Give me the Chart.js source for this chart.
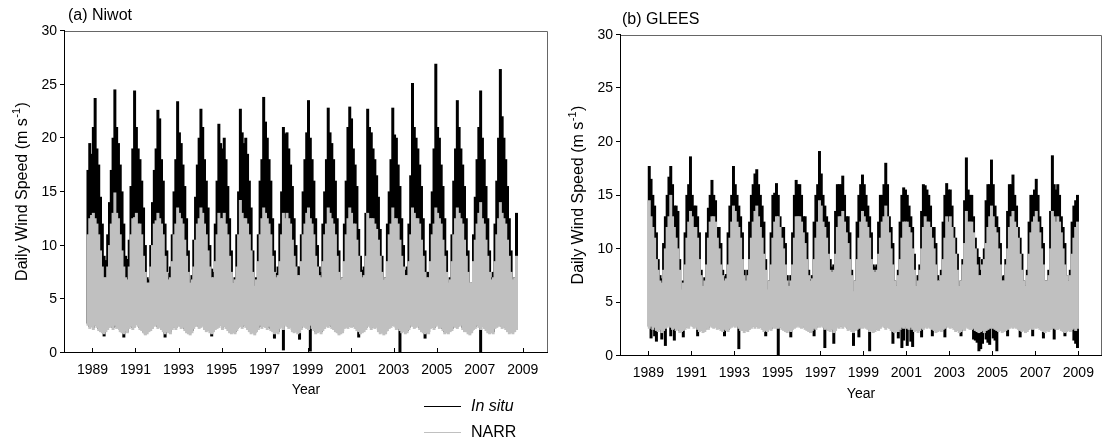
<!DOCTYPE html>
<html>
<head>
<meta charset="utf-8">
<script src="https://cdn.jsdelivr.net/npm/chart.js@4.4.1/dist/chart.umd.min.js"></script>
<style>
  body { margin: 0; background: #fff; width: 1113px; height: 446px; overflow: hidden; position: relative; }
  #wrapA { position: absolute; left: 0; top: 0; }
  #wrapB { position: absolute; left: 556px; top: 0; }
</style>
</head>
<body>
<div id="wrapA"><canvas id="chartA" width="560" height="446"></canvas></div>
<div id="wrapB"><canvas id="chartB" width="557" height="446"></canvas></div>
<script>
// x positions are months; Niwot runs by water year (Oct 1988 - Sep 2008), GLEES by calendar year (1989 - 2008)
let niwotStart = 1988.75;
let gleesStart = 1989.0;
let yearTicks = [1989, 1991, 1993, 1995, 1997, 1999, 2001, 2003, 2005, 2007, 2009];
let speedTicks = [0, 5, 10, 15, 20, 25, 30];
let seriesNames = ["In situ", "NARR"];

// (a) Niwot, monthly upper / lower extent of the daily trace, Oct..Sep per row
let niwotInSituMax = [
  17, 19.5, 18.5, 21, 23.7, 19, 17.5, 14.5, 12, 9, 8.6, 11,
  14, 17, 20, 24.5, 21, 19.5, 17.5, 15, 12, 9, 8.7, 10.5,
  15.5, 19, 24.4, 21, 19, 18, 16, 13.5, 10, 7, 6.8, 10,
  14, 17, 19, 22.6, 21.8, 18, 16, 12, 9.5, 7.4, 8, 11,
  15, 18, 23.4, 20.5, 19.5, 17.5, 15.5, 12.5, 9.5, 6.8, 7.2, 10.5,
  14.5, 17.5, 20, 22.7, 21, 18, 16, 13.5, 10, 7.8, 7.5, 12,
  16, 21.3, 19.5, 19, 20, 18, 15.5, 12.5, 9.5, 6.5, 7, 11,
  15, 22.7, 20.5, 19.5, 20, 18.5, 16, 13.5, 9.5, 6, 7, 11,
  16, 18, 23.8, 21.5, 20, 18, 16, 12.5, 9.5, 7.4, 8, 12,
  15, 21, 20.4, 20.5, 19, 17.5, 15.5, 12.5, 10, 8, 8, 11,
  15, 18, 20.5, 23.5, 20, 18, 16, 12.5, 10, 8, 7.5, 12,
  15, 18, 22.8, 20.5, 19.5, 18, 16, 12.5, 9.5, 6.8, 7, 12,
  16, 21, 22.9, 21.8, 19, 17.5, 15.5, 11.5, 9, 7.7, 8, 13,
  22.7, 21, 20.5, 19, 18, 16.5, 14.5, 11.5, 9, 6.8, 7, 12,
  15, 18, 22.8, 20.3, 20, 17.5, 15.5, 12.5, 10, 7.7, 8, 12,
  16.5, 25.1, 21, 20, 19, 17.5, 15.5, 12.5, 9.5, 7.5, 7.5, 12,
  15, 19, 26.9, 21, 20, 17.5, 15.5, 12.5, 9.5, 6.2, 7, 11,
  16, 19, 23.5, 21, 19, 17.5, 15.5, 12.5, 9.5, 6, 6.5, 11,
  14.5, 18, 21, 24.4, 20, 18, 15.5, 12.5, 9.5, 7, 7.5, 12,
  16, 20, 26.4, 22, 20, 18, 15.5, 12.5, 9.5, 6.5, 7, 13
];
let niwotInSituMin = [
  2.8, 2.5, 2.6, 2.4, 2.8, 2.6, 2.3, 2.2, 2.0, 1.6, 2.2, 2.4,
  2.6, 2.7, 2.4, 2.8, 2.5, 2.6, 2.2, 2.1, 1.5, 2.3, 2.0, 2.5,
  2.7, 2.4, 2.6, 2.9, 2.7, 2.4, 2.3, 2.0, 1.8, 2.0, 2.2, 2.3,
  2.5, 2.7, 2.8, 2.5, 2.6, 2.4, 2.2, 1.5, 2.2, 2.1, 2.0, 2.4,
  2.6, 2.4, 2.7, 2.8, 2.5, 2.6, 2.3, 2.1, 2.0, 1.9, 2.1, 2.5,
  2.7, 2.8, 2.5, 2.6, 2.7, 2.4, 2.2, 2.3, 2.1, 1.6, 2.2, 2.4,
  2.5, 2.6, 2.8, 2.4, 2.7, 2.5, 2.3, 2.1, 2.0, 2.1, 2.0, 2.3,
  2.6, 2.7, 2.5, 2.8, 2.6, 2.4, 2.2, 2.0, 2.1, 1.9, 2.2, 2.4,
  2.8, 2.5, 2.7, 2.6, 2.4, 2.7, 2.3, 2.2, 1.4, 2.1, 2.0, 2.5,
  2.6, 0.3, 2.8, 2.7, 2.5, 2.6, 2.2, 2.1, 2.2, 2.0, 1.3, 2.4,
  2.7, 2.6, 2.5, 2.4, 0.2, 2.5, 2.3, 2.0, 2.1, 2.2, 2.0, 2.3,
  2.5, 2.7, 2.6, 2.8, 2.5, 2.4, 2.2, 2.1, 1.9, 2.0, 2.1, 2.5,
  2.6, 2.5, 2.7, 2.6, 2.8, 2.5, 2.3, 1.5, 2.0, 2.1, 2.2, 2.4,
  2.7, 2.8, 2.4, 2.6, 2.5, 2.6, 2.2, 2.0, 2.1, 1.9, 2.0, 2.3,
  2.5, 2.6, 2.8, 2.7, 2.4, 2.5, 0.0, 2.1, 2.2, 2.0, 2.1, 2.4,
  2.8, 2.7, 2.5, 2.6, 2.7, 2.4, 2.2, 2.1, 1.4, 2.1, 2.0, 2.5,
  2.6, 2.4, 2.7, 2.8, 2.5, 2.6, 2.3, 2.0, 2.1, 2.0, 2.2, 2.3,
  2.7, 2.6, 2.5, 2.7, 2.8, 2.4, 2.2, 2.2, 2.0, 1.9, 2.1, 2.4,
  2.5, 2.8, 2.6, 0.0, 2.7, 2.5, 2.3, 2.1, 2.0, 2.1, 2.0, 2.5,
  2.6, 2.7, 2.8, 2.5, 2.6, 2.4, 2.2, 2.0, 2.1, 2.0, 2.2, 2.4
];
let niwotNarrMax = [
  11, 12.5, 12.8, 13, 12.5, 12, 11, 9.5, 8, 7, 7, 8,
  10, 12, 13, 14.9, 13, 12.5, 11, 9.5, 8, 7, 6.8, 8,
  11, 12.5, 12.6, 13, 12, 12, 11, 9, 7.5, 6.5, 6.5, 8,
  10, 12, 12.3, 13, 12.5, 12, 11, 9, 7.5, 6.8, 7, 8.5,
  11, 12, 13.5, 13, 12.5, 12, 10.5, 9, 7.5, 6.5, 6.8, 8,
  10.5, 12, 12.5, 13.5, 13, 12, 11, 9.5, 8, 7, 7, 8.5,
  11, 13, 12.5, 12.5, 13, 12, 11, 9, 7.5, 6.5, 6.8, 8,
  11, 14.2, 13, 12.5, 12.5, 12, 11, 9.5, 7.5, 6.2, 6.8, 8.5,
  11, 12.5, 13.5, 13, 12.5, 12, 11, 9, 7.5, 7, 7.2, 8.5,
  11, 13, 12.5, 13, 12.5, 12, 10.5, 9, 8, 7.2, 7.2, 8.5,
  11, 12, 13, 13.5, 12.5, 12, 11, 9, 8, 7.2, 7, 8.5,
  11, 12, 13.5, 13, 12.5, 12, 11, 9, 7.5, 6.8, 7, 8.5,
  11, 12.5, 13.5, 13, 12, 12, 10.5, 9, 7.5, 7, 7.2, 9,
  13, 12.5, 12.5, 12.5, 12, 11.5, 10.5, 9, 7.5, 6.8, 7, 8.5,
  11, 12, 13.5, 12.5, 12.5, 12, 10.5, 9, 8, 7.2, 7.2, 8.5,
  11, 13.5, 13, 12.5, 12.5, 12, 10.5, 9, 7.5, 7, 7, 8.5,
  11, 12, 13.5, 13, 12.5, 12, 10.5, 9, 7.5, 6.5, 6.8, 8.5,
  11, 12.5, 13.5, 13, 12.5, 12, 10.5, 9, 7.5, 6.5, 6.5, 8.5,
  10.5, 12, 13, 14, 12.5, 12, 10.5, 9, 7.5, 6.8, 7, 8.5,
  11, 12.5, 14, 13, 12.5, 12, 10.5, 9, 7.5, 6.8, 7, 9
];
let niwotNarrMin = [
  2.6, 2.3, 2.5, 2.2, 2.6, 2.4, 2.1, 2.0, 1.9, 1.8, 2.0, 2.2,
  2.4, 2.5, 2.2, 2.6, 2.3, 2.4, 2.0, 1.9, 1.8, 2.1, 1.9, 2.3,
  2.5, 2.2, 2.4, 2.7, 2.5, 2.2, 2.1, 1.9, 1.7, 1.8, 2.0, 2.1,
  2.3, 2.5, 2.6, 2.3, 2.4, 2.2, 2.0, 1.8, 2.0, 1.9, 1.8, 2.2,
  2.4, 2.2, 2.5, 2.6, 2.3, 2.4, 2.1, 1.9, 1.8, 1.7, 1.9, 2.3,
  2.5, 2.6, 2.3, 2.4, 2.5, 2.2, 2.0, 2.1, 1.9, 1.8, 2.0, 2.2,
  2.3, 2.4, 2.6, 2.2, 2.5, 2.3, 2.1, 1.9, 1.8, 1.9, 1.8, 2.1,
  2.4, 2.5, 2.3, 2.6, 2.4, 2.2, 2.0, 1.8, 1.9, 1.7, 2.0, 2.2,
  2.6, 2.3, 2.5, 2.4, 2.2, 2.5, 2.1, 2.0, 1.8, 1.9, 1.8, 2.3,
  2.4, 2.2, 2.6, 2.5, 2.3, 2.4, 2.0, 1.9, 2.0, 1.8, 1.9, 2.2,
  2.5, 2.4, 2.3, 2.2, 2.6, 2.3, 2.1, 1.8, 1.9, 2.0, 1.8, 2.1,
  2.3, 2.5, 2.4, 2.6, 2.3, 2.2, 2.0, 1.9, 1.7, 1.8, 1.9, 2.3,
  2.4, 2.3, 2.5, 2.4, 2.6, 2.3, 2.1, 2.0, 1.8, 1.9, 2.0, 2.2,
  2.5, 2.6, 2.2, 2.4, 2.3, 2.4, 2.0, 1.8, 1.9, 1.7, 1.8, 2.1,
  2.3, 2.4, 2.6, 2.5, 2.2, 2.3, 2.1, 1.9, 2.0, 1.8, 1.9, 2.2,
  2.6, 2.5, 2.3, 2.4, 2.5, 2.2, 2.0, 1.9, 1.8, 1.9, 1.8, 2.3,
  2.4, 2.2, 2.5, 2.6, 2.3, 2.4, 2.1, 1.8, 1.9, 1.8, 2.0, 2.1,
  2.5, 2.4, 2.3, 2.5, 2.6, 2.2, 2.0, 2.0, 1.8, 1.7, 1.9, 2.2,
  2.3, 2.6, 2.4, 2.2, 2.5, 2.3, 2.1, 1.9, 1.8, 1.9, 1.8, 2.3,
  2.4, 2.5, 2.6, 2.3, 2.4, 2.2, 2.0, 1.8, 1.9, 1.8, 2.0, 2.2
];

// (b) GLEES, Jan..Dec per row
let gleesInSituMax = [
  17.7, 16.5, 15, 14, 11.5, 9, 7.5, 7.2, 10.5, 13, 15, 16.7,
  17.7, 16, 14, 14, 13.5, 9, 6.2, 7, 11.5, 15, 16, 18.6,
  15, 14, 14, 13, 11.5, 8, 6.5, 7.3, 11.5, 13.8, 15, 16.4,
  15, 14.5, 12, 12, 10.5, 8, 7.4, 7.6, 11.5, 14, 15, 17.7,
  16, 15, 14, 13, 11.5, 8, 7.5, 8, 12.5, 15, 16, 17,
  17.4, 16, 15, 14, 12.5, 9, 6.2, 7, 11.5, 15, 15.2, 16.1,
  15, 13, 12, 12, 10.5, 7.5, 6.8, 7.5, 11.5, 15, 16.4, 16,
  16, 15, 13, 13, 11.5, 8, 7.1, 7.5, 12.5, 15, 16, 19.1,
  17, 15, 14, 13, 12.5, 9, 8.3, 8.5, 13.5, 16, 16, 16,
  16.8, 15, 13, 13, 11.5, 8, 5.9, 7, 12.5, 15, 16, 16.9,
  16, 15, 14, 13, 11.5, 8.5, 8.3, 8.5, 12.5, 15, 15, 16,
  18, 16, 13, 12, 10.5, 7, 6.5, 8, 12.5, 15, 15.7, 15.5,
  15, 14, 13, 12, 9.5, 6.5, 7.5, 8.5, 13.5, 16, 15.9, 15.5,
  15, 14, 12, 12, 10.5, 7.5, 7, 8, 12.5, 15, 16.1, 15.5,
  15.5, 14, 12, 11, 9.5, 6.5, 7, 9, 14.5, 18.5, 15.5, 15,
  15, 13, 11, 10, 9.2, 8, 9, 10, 14.5, 16, 16, 18.3,
  16, 14, 13, 12, 10.5, 7.4, 7.5, 9, 13.5, 16, 16, 16.9,
  15, 14, 12, 11, 9.5, 7, 6.5, 8, 12.5, 15, 15, 15.5,
  16.5, 15, 13, 12, 10.5, 7, 7, 8, 13.5, 18.7, 16, 15.5,
  16, 15, 13, 12, 10.5, 7.5, 7, 8, 12.5, 14, 14.5, 15
];
let gleesInSituMin = [
  2.8, 1.7, 2.7, 1.9, 1.4, 2.5, 2.7, 1.6, 2.6, 1.0, 2.9, 3.0,
  1.9, 2.7, 1.5, 2.6, 2.7, 2.4, 2.5, 1.8, 2.7, 2.9, 2.8, 3.1,
  3.0, 2.8, 2.9, 1.9, 2.5, 2.6, 2.4, 2.5, 2.8, 2.7, 3.0, 2.9,
  2.8, 2.9, 2.7, 2.8, 2.6, 2.5, 1.9, 2.6, 2.5, 2.8, 2.9, 3.0,
  2.9, 3.0, 0.7, 2.6, 2.7, 2.4, 2.6, 2.5, 2.7, 2.8, 3.0, 2.8,
  3.0, 2.8, 2.9, 2.7, 2.5, 1.9, 2.5, 2.7, 2.6, 2.9, 2.8, 3.0,
  0.0, 2.9, 2.7, 2.6, 2.5, 2.4, 2.6, 1.8, 2.7, 2.8, 2.9, 3.0,
  2.9, 2.8, 3.0, 2.7, 2.6, 2.5, 2.4, 2.6, 1.9, 2.7, 3.0, 2.9,
  3.0, 2.9, 0.8, 2.8, 2.6, 2.5, 2.7, 1.2, 2.6, 2.9, 2.8, 3.0,
  2.8, 3.0, 2.9, 2.6, 2.7, 2.5, 1.0, 2.6, 2.7, 1.8, 2.9, 2.8,
  2.9, 2.8, 2.7, 0.5, 2.6, 2.4, 2.5, 2.7, 2.6, 2.8, 3.0, 2.9,
  2.7, 2.9, 2.8, 2.6, 1.2, 2.4, 2.6, 1.7, 2.7, 0.8, 1.5, 3.0,
  1.0, 2.7, 1.4, 0.9, 2.5, 2.6, 2.4, 2.6, 1.8, 2.7, 2.9, 2.8,
  2.9, 2.8, 1.9, 2.6, 2.4, 2.5, 2.6, 2.5, 2.7, 1.8, 3.0, 2.9,
  2.8, 2.9, 2.7, 2.5, 2.6, 2.4, 1.9, 2.7, 2.6, 2.9, 2.8, 2.7,
  2.7, 1.6, 1.5, 1.3, 0.5, 0.7, 1.2, 2.4, 1.6, 1.3, 1.1, 2.9,
  1.7, 1.5, 0.5, 2.5, 2.6, 2.4, 2.5, 2.6, 1.9, 2.8, 2.9, 2.8,
  2.9, 2.8, 2.7, 1.8, 2.5, 2.6, 2.4, 2.5, 2.7, 2.8, 1.9, 2.9,
  2.8, 2.9, 2.7, 2.6, 1.7, 2.4, 2.6, 2.5, 2.7, 2.9, 1.6, 2.7,
  2.7, 2.8, 2.6, 2.5, 1.9, 2.5, 2.6, 2.5, 2.7, 1.5, 1.2, 0.8
];
let gleesNarrMax = [
  14.5, 13, 12, 11, 9, 8, 7, 6.8, 8, 10, 12, 13,
  15, 13, 12, 11, 10, 8, 6.2, 6.8, 8.5, 11, 12.5, 13.5,
  13, 12, 12, 11, 9, 7.5, 6.5, 7, 8.5, 11, 12.5, 13,
  13, 12.5, 11, 10, 8.5, 7.5, 7, 7.2, 8.5, 11, 12.5, 14,
  13.5, 12.5, 12, 11, 9, 7.5, 7, 7.5, 9, 11, 12.5, 13.5,
  14, 13, 12, 11, 9.5, 8, 6.2, 7, 8.5, 11, 12.5, 13,
  13, 12, 11, 10, 8.5, 7, 6.5, 7, 8.5, 11, 13, 13,
  13, 12.5, 11.5, 10.5, 9, 7.5, 7, 7.2, 9, 11, 12.5, 14.5,
  14, 12.5, 12, 11, 9.5, 8, 7.8, 8, 9.5, 12, 13, 13,
  13.5, 12.5, 11.5, 10.5, 9, 7.5, 6, 7, 9, 11, 12.5, 13.5,
  13, 12.5, 12, 11, 9, 8, 7.8, 8, 9.5, 11, 12.5, 13,
  14, 13, 11.5, 10, 8.5, 7, 6.5, 7.5, 9, 11, 12.5, 12.5,
  12.5, 12, 11.5, 10, 8, 6.5, 7, 8, 10, 12, 13, 12.5,
  12.5, 12, 11, 10, 8.5, 7, 7, 7.5, 9, 11, 13, 12.5,
  13, 12, 11, 9.5, 8, 6.5, 7, 8.5, 10.5, 13.5, 12.5, 12.5,
  12.5, 11.5, 10, 8.5, 7.5, 7.5, 8.5, 9, 10.5, 12, 13, 14,
  13, 12, 11.5, 10, 8.5, 7, 7, 8.5, 10, 12, 13, 13.5,
  12.5, 12, 11, 9.5, 8, 7, 6.5, 7.5, 9.5, 11.5, 12.5, 13,
  13.5, 12.5, 11.5, 10, 8.5, 7, 7, 7.5, 10, 13.5, 13, 12.5,
  13, 12.5, 11.5, 10, 8.5, 7.5, 7, 7.5, 9.5, 11, 12, 12.5
];
let gleesNarrMin = [
  2.6, 2.8, 2.5, 2.7, 2.4, 2.3, 2.5, 2.2, 2.4, 2.6, 2.7, 2.8,
  2.7, 2.5, 2.6, 2.4, 2.5, 2.2, 2.3, 2.4, 2.5, 2.7, 2.6, 2.9,
  2.8, 2.6, 2.7, 2.5, 2.3, 2.4, 2.2, 2.3, 2.6, 2.5, 2.8, 2.7,
  2.6, 2.7, 2.5, 2.6, 2.4, 2.3, 2.5, 2.4, 2.3, 2.6, 2.7, 2.8,
  2.7, 2.8, 2.6, 2.4, 2.5, 2.2, 2.4, 2.3, 2.5, 2.6, 2.8, 2.6,
  2.8, 2.6, 2.7, 2.5, 2.3, 2.4, 2.3, 2.5, 2.4, 2.7, 2.6, 2.8,
  2.6, 2.7, 2.5, 2.4, 2.3, 2.2, 2.4, 2.3, 2.5, 2.6, 2.7, 2.8,
  2.7, 2.6, 2.8, 2.5, 2.4, 2.3, 2.2, 2.4, 2.6, 2.5, 2.8, 2.7,
  2.8, 2.7, 2.5, 2.6, 2.4, 2.3, 2.5, 2.2, 2.4, 2.7, 2.6, 2.8,
  2.6, 2.8, 2.7, 2.4, 2.5, 2.3, 2.2, 2.4, 2.5, 2.6, 2.7, 2.6,
  2.7, 2.6, 2.5, 2.3, 2.4, 2.2, 2.3, 2.5, 2.4, 2.6, 2.8, 2.7,
  2.5, 2.7, 2.6, 2.4, 2.3, 2.2, 2.4, 2.3, 2.5, 2.7, 2.6, 2.8,
  2.6, 2.5, 2.7, 2.5, 2.3, 2.4, 2.2, 2.4, 2.6, 2.5, 2.7, 2.6,
  2.7, 2.6, 2.5, 2.4, 2.2, 2.3, 2.4, 2.3, 2.5, 2.6, 2.8, 2.7,
  2.6, 2.7, 2.5, 2.3, 2.4, 2.2, 2.3, 2.5, 2.4, 2.7, 2.6, 2.5,
  2.5, 2.6, 2.4, 2.3, 2.2, 2.3, 2.4, 2.2, 2.4, 2.5, 2.6, 2.7,
  2.6, 2.5, 2.4, 2.3, 2.4, 2.2, 2.3, 2.4, 2.5, 2.6, 2.7, 2.6,
  2.7, 2.6, 2.5, 2.4, 2.3, 2.4, 2.2, 2.3, 2.5, 2.6, 2.5, 2.7,
  2.6, 2.7, 2.5, 2.4, 2.3, 2.2, 2.4, 2.3, 2.5, 2.7, 2.6, 2.5,
  2.5, 2.6, 2.4, 2.3, 2.2, 2.3, 2.4, 2.3, 2.5, 2.6, 2.4, 2.6
];

let FONT = "'Liberation Sans', Arial, sans-serif";
let INSITU_COLOR = "#000000";
let NARR_COLOR = "#c0c0c0";

// one floating bar per month, from the month's low to its high
function monthBars(start, lo, hi) {
  return hi.map(function (v, i) {
    return { x: start + (i + 0.5) / 12, y: [lo[i], v] };
  });
}

// frame, ticks, axis titles, panel title and (for panel a) the legend
let decor = {
  id: "decor",
  afterDraw: function (chart, args, opts) {
    let ctx = chart.ctx;
    let a = chart.chartArea;
    let xs = chart.scales.x;
    let ys = chart.scales.y;
    ctx.save();
    ctx.lineWidth = 1;

    // frame
    ctx.strokeStyle = "#666";
    ctx.beginPath();
    ctx.moveTo(a.left, a.top + 0.5);
    ctx.lineTo(a.right - 0.5, a.top + 0.5);
    ctx.lineTo(a.right - 0.5, a.bottom);
    ctx.stroke();
    ctx.strokeStyle = "#000";
    ctx.beginPath();
    ctx.moveTo(a.left + 0.5, a.top);
    ctx.lineTo(a.left + 0.5, a.bottom - 0.5);
    ctx.lineTo(a.right, a.bottom - 0.5);
    ctx.stroke();

    // x ticks point inward, y ticks outward
    ctx.beginPath();
    yearTicks.forEach(function (v) {
      let px = Math.round(xs.getPixelForValue(v)) + 0.5;
      ctx.moveTo(px, a.bottom);
      ctx.lineTo(px, a.bottom - 5);
    });
    speedTicks.forEach(function (v) {
      let py = Math.round(ys.getPixelForValue(v)) - 0.5;
      ctx.moveTo(a.left - 4, py);
      ctx.lineTo(a.left + 1, py);
    });
    ctx.stroke();

    ctx.fillStyle = "#000";
    ctx.textBaseline = "middle";

    // y title with superscript
    ctx.save();
    ctx.translate(opts.yTitleX, (a.top + a.bottom) / 2);
    ctx.rotate(-Math.PI / 2);
    let f1 = "16px " + FONT;
    let f2 = "11px " + FONT;
    ctx.font = f1;
    let p1 = "Daily Wind Speed (m s";
    let p3 = ")";
    let w1 = ctx.measureText(p1).width;
    let w3 = ctx.measureText(p3).width;
    ctx.font = f2;
    let w2 = ctx.measureText("-1").width;
    let x0 = -(w1 + w2 + w3) / 2;
    ctx.textAlign = "left";
    ctx.font = f1;
    ctx.fillText(p1, x0, 0);
    ctx.font = f2;
    ctx.fillText("-1", x0 + w1 + 0.5, -6);
    ctx.font = f1;
    ctx.fillText(p3, x0 + w1 + w2 + 1, 0);
    ctx.restore();

    // x title
    ctx.font = "14px " + FONT;
    ctx.textAlign = "center";
    ctx.fillText("Year", (a.left + a.right) / 2, opts.xTitleY);

    // panel title
    ctx.font = "16px " + FONT;
    ctx.textAlign = "left";
    ctx.fillText(opts.title, opts.titleX, opts.titleY);

    if (opts.legend) {
      let ds = chart.data.datasets;
      let items = [ds[1], ds[0]];
      items.forEach(function (d, i) {
        let y = opts.legend.y + i * opts.legend.gap + 0.5;
        ctx.strokeStyle = d.backgroundColor;
        ctx.beginPath();
        ctx.moveTo(opts.legend.x, y);
        ctx.lineTo(opts.legend.x + 37, y);
        ctx.stroke();
        ctx.font = (i === 0 ? "italic " : "") + "16px " + FONT;
        ctx.fillStyle = "#000";
        ctx.textAlign = "left";
        ctx.fillText(d.label, opts.legend.x + 47, y);
      });
    }
    ctx.restore();
  }
};

function makeChart(id, start, inSituLo, inSituHi, narrLo, narrHi, cfg) {
  return new Chart(document.getElementById(id), {
    type: "bar",
    data: {
      datasets: [
        {
          label: seriesNames[1],
          data: monthBars(start, narrLo, narrHi),
          backgroundColor: NARR_COLOR,
          order: 1
        },
        {
          label: seriesNames[0],
          data: monthBars(start, inSituLo, inSituHi),
          backgroundColor: INSITU_COLOR,
          order: 2
        }
      ]
    },
    options: {
      responsive: false,
      animation: false,
      devicePixelRatio: 1,
      layout: { padding: cfg.padding },
      datasets: {
        bar: {
          grouped: false,
          barPercentage: 1,
          categoryPercentage: 1,
          borderWidth: 0,
          inflateAmount: 0.6
        }
      },
      plugins: {
        legend: { display: false },
        tooltip: { enabled: false },
        decor: cfg.decor
      },
      scales: {
        x: {
          type: "linear",
          min: cfg.xMin,
          max: cfg.xMax,
          grid: { display: false, drawTicks: false },
          border: { display: false },
          afterBuildTicks: function (s) {
            s.ticks = yearTicks.map(function (v) { return { value: v }; });
          },
          afterFit: function (s) {
            s.height = 27;
            s.paddingLeft = 0;
            s.paddingRight = 0;
          },
          ticks: {
            autoSkip: false,
            maxRotation: 0,
            padding: 9,
            color: "#000",
            font: { family: FONT, size: 14 },
            callback: function (v) { return String(v); }
          }
        },
        y: {
          min: 0,
          max: 30,
          grid: { display: false, drawTicks: false },
          border: { display: false },
          afterFit: function (s) { s.width = 64; },
          ticks: {
            stepSize: 5,
            padding: 7,
            color: "#000",
            font: { family: FONT, size: 14 }
          }
        }
      }
    },
    plugins: [decor]
  });
}

makeChart("chartA", niwotStart, niwotInSituMin, niwotInSituMax, niwotNarrMin, niwotNarrMax, {
  padding: { left: 0, top: 31, right: 12, bottom: 66 },
  xMin: 1988.70,
  xMax: 2009.15,
  decor: {
    title: "(a) Niwot", titleX: 68, titleY: 16,
    yTitleX: 23, xTitleY: 390,
    legend: { x: 424, y: 406, gap: 26 }
  }
});

makeChart("chartB", gleesStart, gleesInSituMin, gleesInSituMax, gleesNarrMin, gleesNarrMax, {
  padding: { left: 0, top: 35, right: 11, bottom: 63 },
  xMin: 1988.70,
  xMax: 2009.08,
  decor: {
    title: "(b) GLEES", titleX: 66, titleY: 20,
    yTitleX: 23, xTitleY: 394
  }
});
</script>
</body>
</html>
